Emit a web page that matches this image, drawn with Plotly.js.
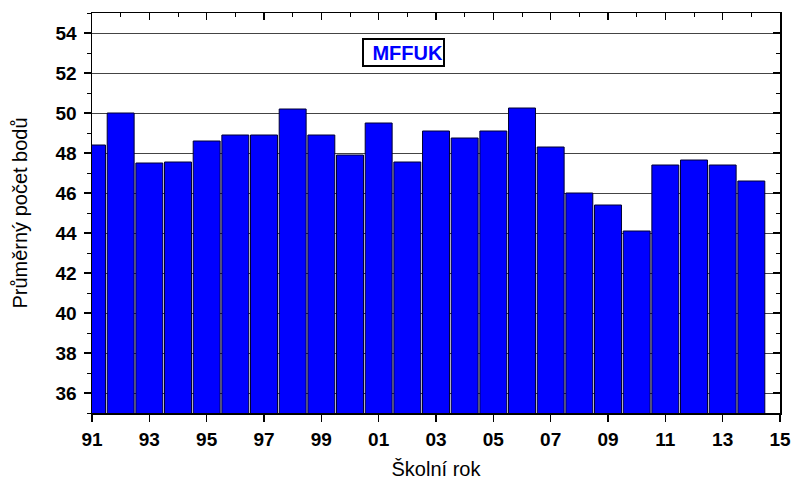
<!DOCTYPE html>
<html>
<head>
<meta charset="utf-8">
<script src="https://cdn.plot.ly/plotly-3.0.1.min.js"></script>
<style>html,body{margin:0;padding:0;background:#fff;}#chart{width:795px;height:481px;}</style>
</head>
<body>
<div id="chart"></div>
<script>
var years = [1991,1992,1993,1994,1995,1996,1997,1998,1999,2000,2001,2002,2003,2004,2005,2006,2007,2008,2009,2010,2011,2012,2013,2014];
var avgPoints = [48.4,50.0,47.5,47.55,48.6,48.9,48.9,50.2,48.9,47.9,49.5,47.55,49.1,48.75,49.1,50.25,48.3,46.0,45.4,44.1,47.4,47.65,47.4,46.6];
var xTickVals = [1991,1993,1995,1997,1999,2001,2003,2005,2007,2009,2011,2013,2015];
var xTickText = ["91","93","95","97","99","01","03","05","07","09","11","13","15"];
var xTitle = "Školní rok";
var yTitle = "Průměrný počet bodů";
var boxLabel = "MFFUK";

var tickFont = {family: "Liberation Sans, Arial, sans-serif", size: 19, color: "#000", weight: "bold"};
var titleFont = {family: "Liberation Sans, Arial, sans-serif", size: 20, color: "#000"};

var traces = [
  {
    type: "bar",
    x: years,
    y: avgPoints,
    width: 0.94,
    marker: {color: "#0000ff", line: {color: "#000033", width: 1}},
    hoverinfo: "x+y"
  },
  {
    type: "scatter", mode: "markers", x: [], y: [], xaxis: "x2", yaxis: "y2", showlegend: false
  }
];

var layout = {
  width: 795, height: 481,
  margin: {l: 92, r: 15, t: 13, b: 68},
  paper_bgcolor: "#fff", plot_bgcolor: "#fff",
  showlegend: false,
  bargap: 0,
  xaxis: {
    range: [1991, 2015],
    tickmode: "array", tickvals: xTickVals, ticktext: xTickText,
    ticks: "outside", ticklen: 7, tickwidth: 1.5, tickcolor: "#000",
    showline: true, linecolor: "#000", linewidth: 1.5,
    showgrid: false, zeroline: false,
    tickfont: tickFont,
    ticklabelstandoff: 2,
    title: {text: xTitle, font: titleFont, standoff: 12}
  },
  xaxis2: {
    range: [1991, 2015], overlaying: "x", side: "top",
    tickmode: "array", tickvals: xTickVals,
    ticks: "inside", ticklen: 7, tickwidth: 1.5, tickcolor: "#000",
    minor: {dtick: 1, tick0: 1991, ticks: "inside", ticklen: 4, tickwidth: 1, tickcolor: "#000", showgrid: false},
    showticklabels: false,
    showline: true, linecolor: "#000", linewidth: 1.5,
    showgrid: false, zeroline: false
  },
  yaxis: {
    range: [35, 55],
    tick0: 0, dtick: 2,
    ticks: "outside", ticklen: 7, tickwidth: 1.5, tickcolor: "#000",
    minor: {dtick: 1, ticks: "outside", ticklen: 4, tickwidth: 1, tickcolor: "#000", showgrid: false},
    showline: true, linecolor: "#000", linewidth: 1.5,
    showgrid: true, gridcolor: "#444", gridwidth: 1,
    zeroline: false,
    tickfont: tickFont,
    ticklabelstandoff: 3,
    title: {text: yTitle, font: titleFont, standoff: 22}
  },
  yaxis2: {
    range: [35, 55], overlaying: "y", side: "right",
    tick0: 0, dtick: 2,
    ticks: "inside", ticklen: 7, tickwidth: 1.5, tickcolor: "#000",
    minor: {dtick: 1, ticks: "inside", ticklen: 4, tickwidth: 1, tickcolor: "#000", showgrid: false},
    showticklabels: false,
    showline: true, linecolor: "#000", linewidth: 1.5,
    showgrid: false, zeroline: false
  },
  annotations: [
    {
      xref: "x", yref: "y", x: 2001.87, y: 53.05,
      text: "<b>" + boxLabel + "</b>",
      showarrow: false,
      font: {family: "Liberation Sans, Arial, sans-serif", size: 20, color: "#0000ff"},
      width: 79, height: 25, align: "right",
      bordercolor: "#000", borderwidth: 2, borderpad: 0,
      bgcolor: "#fff"
    }
  ]
};

Plotly.newPlot("chart", traces, layout, {staticPlot: true, displayModeBar: false});
</script>
</body>
</html>
